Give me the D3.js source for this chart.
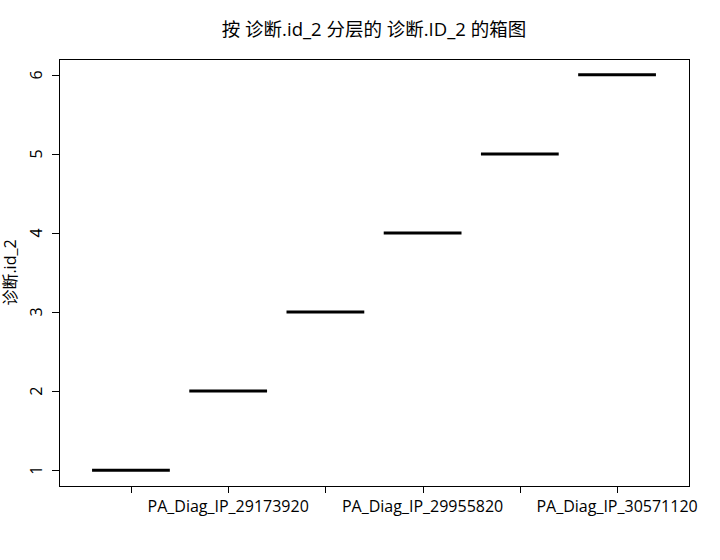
<!DOCTYPE html>
<html><head><meta charset="utf-8">
<script src="https://cdn.jsdelivr.net/npm/d3@7"></script>
<style>body{margin:0;background:#fff}svg{display:block}text{font-family:"Open Sans","Noto Sans CJK SC",sans-serif;fill:#000}</style>
</head><body><svg id="c" width="720" height="560"></svg>
<script>
const categories = ["PA_Diag_IP_28xxxxxx","PA_Diag_IP_29173920","PA_Diag_IP_2950xxxx","PA_Diag_IP_29955820","PA_Diag_IP_3030xxxx","PA_Diag_IP_30571120"];
const shownLabels = [false,true,false,true,false,true];
const values = [1,2,3,4,5,6];
const yTicks = [1,2,3,4,5,6];
const title = "按 诊断.id_2 分层的 诊断.ID_2 的箱图";
const yLabel = "诊断.id_2";

const svg = d3.select("#c");
const L=59, R=689, T=59, B=486;
const x = d3.scaleLinear().domain([0.26, 6.74]).range([L,R]);
const y = d3.scaleLinear().domain([0.8, 6.2]).range([B,T]);

svg.append("rect").attr("x",L+0.5).attr("y",T+0.5).attr("width",R-L).attr("height",B-T)
  .attr("fill","none").attr("stroke","#000").attr("stroke-width",1);

// medians (degenerate boxes)
svg.selectAll("line.med").data(values).join("line")
  .attr("x1",(d,i)=>x(i+1-0.4)).attr("x2",(d,i)=>x(i+1+0.4))
  .attr("y1",d=>y(d)).attr("y2",d=>y(d))
  .attr("stroke","#000").attr("stroke-width",3);

// x axis
const xa = svg.append("g");
categories.forEach((c,i)=>{
  const px = Math.round(x(i+1))+0.5;
  xa.append("line").attr("x1",px).attr("x2",px).attr("y1",B).attr("y2",B+7).attr("stroke","#000");
  if(shownLabels[i]) xa.append("text").attr("x",x(i+1)).attr("y",512).attr("text-anchor","middle")
    .attr("font-size",16).text(c);
});

// y axis
const ya = svg.append("g");
yTicks.forEach(v=>{
  const py = Math.round(y(v))+0.5;
  ya.append("line").attr("x1",L-7).attr("x2",L).attr("y1",py).attr("y2",py).attr("stroke","#000");
  ya.append("text").attr("transform",`translate(42,${y(v)}) rotate(-90)`).attr("text-anchor","middle")
    .attr("font-size",16).text(v);
});

svg.append("text").attr("transform",`translate(16,${(T+B)/2}) rotate(-90)`).attr("text-anchor","middle")
  .attr("font-size",16).text(yLabel);

svg.append("text").attr("x",(L+R)/2).attr("y",36).attr("text-anchor","middle")
  .attr("font-size",18.5).text(title);
</script></body></html>
